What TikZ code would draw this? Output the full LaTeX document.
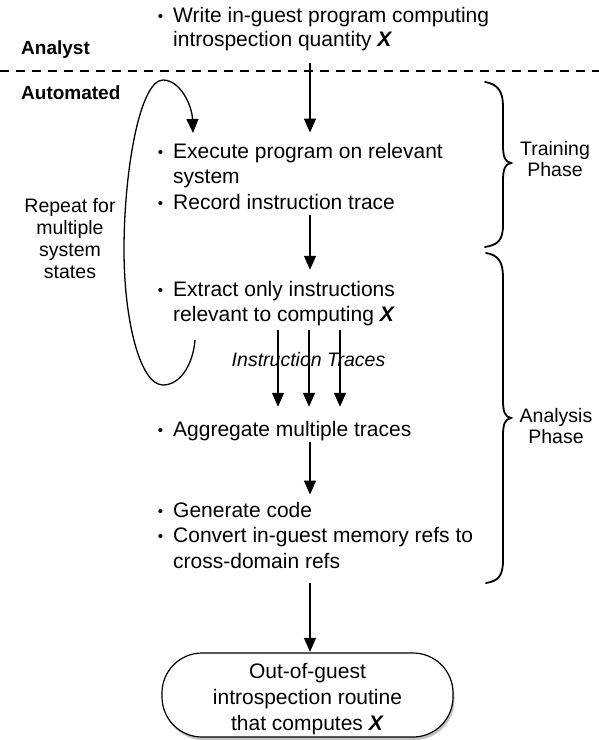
\documentclass[tikz,border=0pt]{standalone}
\usepackage{fontspec}
\setmainfont{Liberation Sans}
\usetikzlibrary{arrows.meta,shadows,calc}
% bullet hung in the left margin of a line
\newcommand\itembul{\llap{\raisebox{0.8pt}{\fontsize{15}{15}\selectfont\textbullet}\hspace{10pt}}}
\newcommand\qx{\textbf{\textit{X}}}
\begin{document}
\begin{tikzpicture}[x=1pt,y=-1pt,
  itemtext/.style={font=\fontsize{21}{25.5}\selectfont, inner sep=0pt, align=left, anchor=base west},
  sidelabel/.style={font=\fontsize{19.5}{21}\selectfont, inner sep=0pt, align=center, anchor=base},
  rolelabel/.style={font=\bfseries\fontsize{19}{22}\selectfont, inner sep=0pt, anchor=base west},
  flowarrow/.style={draw, line width=1.3pt, -{Triangle[length=14pt,width=12pt]}},
  bracepath/.style={draw, line width=1.8pt, line cap=round},
  outbox/.style={draw, line width=1.2pt, fill=white, rounded corners=40pt,
    minimum width=291pt, minimum height=84pt, align=center, inner sep=0pt,
    font=\fontsize{21}{26}\selectfont,
    drop shadow={shadow xshift=1.5pt, shadow yshift=-3pt, opacity=0.35, fill=black!70}}
]
\useasboundingbox (0,0) rectangle (599,740);
\coordinate (col) at (310,0);

% roles and the separator between them
\node[rolelabel] (analyst) at (21,54) {Analyst};
\node[rolelabel] (automated) at (21,99) {Automated};
\draw[line width=1.3pt, dash pattern=on 9pt off 7pt] (0,71) -- (599,71);

% steps of the pipeline (each node is placed by the baseline of its last line)
\node[itemtext, font=\fontsize{21}{24.5}\selectfont] (write) at (173,46.5)
  {\itembul Write in-guest program computing\\introspection quantity \qx};
\node[itemtext] (exec) at (173,209)
  {\itembul Execute program on relevant\\system\\\itembul Record instruction trace};
\node[itemtext] (extract) at (173,321.5)
  {\itembul Extract only instructions\\relevant to computing \qx};
\node[itemtext] (aggr) at (173,436) {\itembul Aggregate multiple traces};
\node[itemtext] (gen) at (173,568)
  {\itembul Generate code\\\itembul Convert in-guest memory refs to\\cross-domain refs};
\node[outbox] (out) at (307.5,695)
  {\rule{0pt}{22.4pt}Out-of-guest\\introspection routine\\that computes \qx};

% side notes
\node[sidelabel, font=\fontsize{19.5}{22}\selectfont] (repeat) at (70,278)
  {Repeat for\\multiple\\system\\states};
\node[sidelabel] (training) at (555,176) {Training\\Phase};
\node[sidelabel] (analysis) at (556,443) {Analysis\\Phase};

% main flow
\draw[flowarrow, shorten <=12pt, shorten >=10pt] (write.south -| col) -- (exec.north -| col);
\draw[flowarrow, shorten <=6pt, shorten >=10.8pt] (exec.south -| col) -- (extract.north -| col);
\foreach \dx in {-32,-1,30}
  \draw[flowarrow, shorten <=4pt, shorten >=13.8pt]
    ($(extract.south -| col)+(\dx,0)$) -- ($(aggr.north -| col)+(\dx,0)$);
\node[font=\itshape\fontsize{19.5}{22}\selectfont, inner sep=0pt, anchor=base] (traces)
  at (308.5,366) {Instruction Traces};
\draw[flowarrow, shorten <=1pt, shorten >=7pt] (aggr.south -| col) -- (gen.north -| col);
\draw[flowarrow, shorten <=15pt, shorten >=0.5pt] (gen.south -| col) -- (out.north -| col);

% repetition loop
\coordinate (loopfrom) at (195,340);
\coordinate (loopto) at (193,133);
\draw[flowarrow] (loopfrom) .. controls (193,365) and (180,385) .. (163,385)
  .. controls (140,385) and (124,320) .. (124,250)
  .. controls (124,170) and (140,80) .. (163,80)
  .. controls (180,80) and (192,105) .. (loopto);

% phase braces
\draw[bracepath] (485,82) .. controls (498,84) and (503,92) .. (503,106) -- (503,145)
  .. controls (503,157) and (505,162) .. (511,163)
  .. controls (505,164) and (503,169) .. (503,181) -- (503,225)
  .. controls (503,240) and (498,245) .. (485,247);
\draw[bracepath] (486,253) .. controls (499,255) and (503,263) .. (503,277) -- (503,400)
  .. controls (503,412) and (505,417) .. (511,418)
  .. controls (505,419) and (503,424) .. (503,436) -- (503,560)
  .. controls (503,575) and (499,581) .. (486,583);
\end{tikzpicture}
\end{document}
